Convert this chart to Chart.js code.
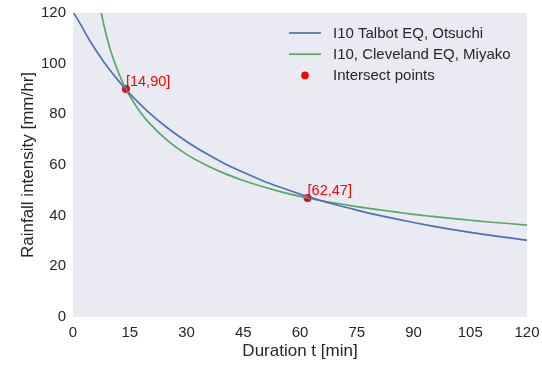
<!DOCTYPE html>
<html>
<head>
<meta charset="utf-8">
<script src="https://cdn.jsdelivr.net/npm/chart.js@4"></script>
<style>
  html, body { margin: 0; padding: 0; background: #ffffff; }
  #wrap { width: 542px; height: 367px; position: relative; }
</style>
</head>
<body>
<div id="wrap"><canvas id="c" width="542" height="367"></canvas></div>
<script>
// Rainfall intensity-duration curves (I10) for two stations
const durations = [0, 2, 4, 6, 7, 8, 9, 10, 12, 14, 16, 18, 20, 25, 30, 35, 40, 45, 50, 55, 60, 62, 65, 70, 75, 80, 85, 90, 95, 100, 105, 110, 115, 120];
const talbotOtsuchi = [120.5, 115.5, 110.2, 105.4, 103.2, 101.0, 99.0, 97.0, 93.3, 89.8, 86.6, 83.6, 80.8, 74.6, 69.3, 64.7, 60.6, 57.1, 53.9, 51.1, 48.5, 47.5, 46.2, 44.1, 42.2, 40.4, 38.8, 37.3, 35.9, 34.6, 33.4, 32.3, 31.3, 30.3];
const clevelandMiyako = [null, null, null, 133.1, 123.8, 116.3, 110.1, 104.9, 96.5, 90.0, 84.8, 80.4, 76.8, 69.6, 64.2, 60.1, 56.7, 53.9, 51.5, 49.4, 47.6, 47.0, 46.1, 44.8, 43.6, 42.5, 41.5, 40.5, 39.7, 38.9, 38.2, 37.5, 36.9, 36.3];
const intersectT = [14, 62];
const intersectI = [90, 47];
const xTicks = [0, 15, 30, 45, 60, 75, 90, 105, 120];
const yTicks = [0, 20, 40, 60, 80, 100, 120];

const seriesNames = ['I10 Talbot EQ, Otsuchi', 'I10, Cleveland EQ, Miyako', 'Intersect points'];
const BLUE = '#4C72B0', GREEN = '#55A868', RED = '#FF0000';
const TEXT = '#262626';
const FONT = '"Liberation Sans", Arial, Helvetica, sans-serif';

const toXY = (ys) => durations.map((t, i) => ({ x: t, y: ys[i] }));

// Plot face colour
const faceFill = {
  id: 'faceFill',
  beforeDraw(chart) {
    const { ctx, chartArea: a } = chart;
    ctx.save();
    ctx.fillStyle = '#EAEAF2';
    ctx.fillRect(a.left, a.top, a.right - a.left, a.bottom - a.top);
    ctx.restore();
  }
};

// Coordinate labels next to the intersect points
const pointLabels = {
  id: 'pointLabels',
  afterDatasetsDraw(chart) {
    const { ctx, scales: { x, y } } = chart;
    ctx.save();
    ctx.font = '14.5px ' + FONT;
    ctx.fillStyle = RED;
    ctx.textAlign = 'left';
    ctx.textBaseline = 'alphabetic';
    intersectT.forEach((t, i) => {
      const px = x.getPixelForValue(t);
      const py = y.getPixelForValue(intersectI[i]);
      ctx.fillText('[' + t + ',' + intersectI[i] + ']', px, py - 3);
    });
    ctx.restore();
  }
};

// Legend drawn inside the upper right of the plot area
const innerLegend = {
  id: 'innerLegend',
  afterDraw(chart) {
    const { ctx, chartArea: a } = chart;
    const x0 = 289;
    const y0 = a.top + 20;
    const rowH = 21.2;
    ctx.save();
    ctx.font = '15px ' + FONT;
    ctx.fillStyle = TEXT;
    ctx.textBaseline = 'middle';
    ctx.textAlign = 'left';
    const colors = [BLUE, GREEN];
    for (let i = 0; i < 3; i++) {
      const yy = y0 + i * rowH;
      if (i < 2) {
        ctx.strokeStyle = colors[i];
        ctx.lineWidth = 1.7;
        ctx.beginPath();
        ctx.moveTo(x0, yy);
        ctx.lineTo(x0 + 32, yy);
        ctx.stroke();
      } else {
        ctx.fillStyle = RED;
        ctx.beginPath();
        ctx.arc(x0 + 16, yy, 3.8, 0, Math.PI * 2);
        ctx.fill();
        ctx.fillStyle = TEXT;
      }
      ctx.fillText(seriesNames[i], x0 + 44, yy + 0.5);
    }
    ctx.restore();
  }
};

new Chart(document.getElementById('c'), {
  type: 'line',
  data: {
    datasets: [
      {
        label: seriesNames[0],
        data: toXY(talbotOtsuchi),
        borderColor: BLUE,
        borderWidth: 1.7,
        pointRadius: 0,
        cubicInterpolationMode: 'monotone',
        fill: false
      },
      {
        label: seriesNames[1],
        data: toXY(clevelandMiyako),
        borderColor: GREEN,
        borderWidth: 1.7,
        pointRadius: 0,
        cubicInterpolationMode: 'monotone',
        fill: false
      },
      {
        type: 'scatter',
        label: seriesNames[2],
        data: intersectT.map((t, i) => ({ x: t, y: intersectI[i] })),
        backgroundColor: RED,
        borderColor: RED,
        pointRadius: 4,
        pointBorderWidth: 0,
        showLine: false
      }
    ]
  },
  options: {
    responsive: false,
    animation: false,
    layout: { padding: { left: 14, top: 13, right: 15, bottom: 1 } },
    plugins: {
      legend: { display: false },
      tooltip: { enabled: false },
      title: { display: false }
    },
    scales: {
      x: {
        type: 'linear',
        min: 0,
        max: 120,
        afterBuildTicks(s) { s.ticks = xTicks.map(v => ({ value: v })); },
        afterFit(s) { s.height = 49; s.paddingLeft = 0; s.paddingRight = 0; },
        grid: { display: false, drawTicks: false },
        border: { display: false },
        ticks: { color: TEXT, font: { family: FONT, size: 15 }, padding: 7, maxRotation: 0 },
        title: { display: true, text: 'Duration t [min]', color: TEXT, font: { family: FONT, size: 17 }, padding: { top: 4, bottom: 4 } }
      },
      y: {
        type: 'linear',
        min: 0,
        max: 120,
        afterBuildTicks(s) { s.ticks = yTicks.map(v => ({ value: v })); },
        afterFit(s) { s.width = 59; s.paddingTop = 0; s.paddingBottom = 0; },
        grid: { display: false, drawTicks: false },
        border: { display: false },
        ticks: { color: TEXT, font: { family: FONT, size: 15 }, padding: 7 },
        title: { display: true, text: 'Rainfall intensity [mm/hr]', color: TEXT, font: { family: FONT, size: 17 }, padding: { top: 4, bottom: 4 } }
      }
    }
  },
  plugins: [faceFill, pointLabels, innerLegend]
});
</script>
</body>
</html>
